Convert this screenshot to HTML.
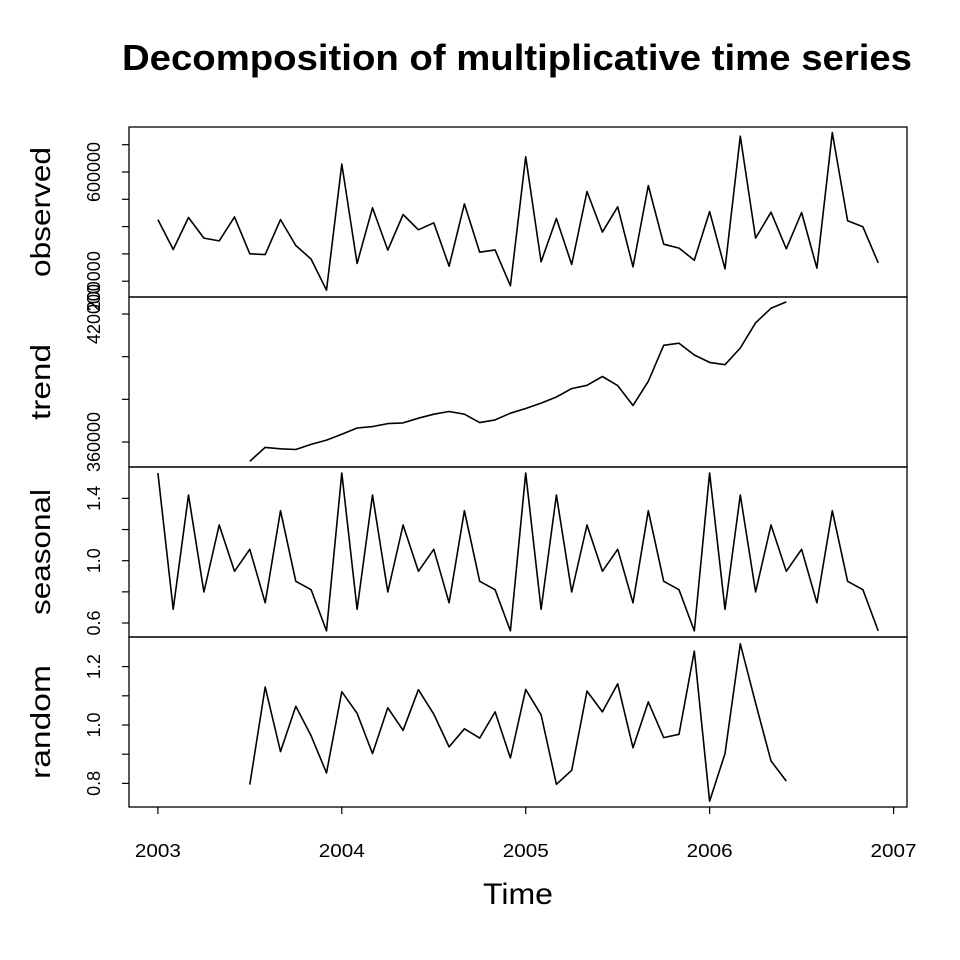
<!DOCTYPE html>
<html><head><meta charset="utf-8"><style>
body{margin:0;background:#fff}
svg{display:block;font-family:"Liberation Sans",Arial,sans-serif}
</style></head><body>
<svg id="chart" width="960" height="960" viewBox="0 0 960 960" xmlns="http://www.w3.org/2000/svg">
<rect width="960" height="960" fill="#fff"/>
<text x="517" y="70" text-anchor="middle" font-size="36" font-weight="bold" textLength="790" lengthAdjust="spacingAndGlyphs">Decomposition of multiplicative time series</text>
<text x="518" y="904" text-anchor="middle" font-size="30" textLength="70" lengthAdjust="spacingAndGlyphs">Time</text>
<g id="g"></g>
</svg>
<script>
const observed=[425800,316000,433200,357700,347800,435700,300200,297600,425800,330600,280800,167200,628800,264700,468700,313800,444200,388100,413800,255100,483300,306400,314800,183000,655500,270900,429500,261000,528400,379700,472400,252600,550400,335700,321100,277100,455100,245300,731300,357700,452900,318500,451500,247800,744500,421100,399100,267200];
const trend=[350970,357450,356800,356500,358870,360900,363600,366570,367200,368620,368940,371160,373050,374290,373050,369100,370360,373520,375700,378250,381090,385010,386570,390690,386430,377120,388460,405340,406290,400760,397310,396220,404070,415890,422690,425670];
const seasonalYear=[1.563,0.688,1.422,0.799,1.229,0.932,1.073,0.730,1.321,0.868,0.814,0.549];
const random=[0.796,1.130,0.909,1.064,0.963,0.836,1.114,1.040,0.902,1.059,0.982,1.121,1.037,0.925,0.987,0.955,1.045,0.887,1.122,1.035,0.797,0.845,1.116,1.045,1.141,0.922,1.079,0.957,0.968,1.253,0.739,0.902,1.278,1.075,0.877,0.808];
const trendStart=6;
const xTicks=[2003,2004,2005,2006,2007];
const obsTicks=[200000,300000,400000,500000,600000,700000];
const obsLabels=["200000","600000"];
const trendTicks=[360000,380000,400000,420000];
const trendLabels=["360000","420000"];
const seaTicks=[0.6,0.8,1.0,1.2,1.4];
const seaLabels=["0.6","1.0","1.4"];
const ranTicks=[0.8,0.9,1.0,1.1,1.2];
const ranLabels=["0.8","1.0","1.2"];
const seasonal=[];for(let i=0;i<48;i++)seasonal.push(seasonalYear[i%12]);

const NS="http://www.w3.org/2000/svg";
const g=document.getElementById('g');
const L=129,R=907;
const xs=t=>L+(t-2002.843)*(R-L)/(2007.073-2002.843);
const xm=i=>xs(2003+i/12);
function el(tag,at,txt){const e=document.createElementNS(NS,tag);for(const k in at)e.setAttribute(k,at[k]);if(txt!==undefined)e.textContent=txt;g.appendChild(e);return e;}
const panels=[
 {name:'observed',top:127,bot:297,data:observed,start:0,y:v=>172-(v-600000)*0.000273,ticks:obsTicks,labels:obsLabels,lw:130},
 {name:'trend',top:297,bot:467,data:trend,start:trendStart,y:v=>314-(v-420000)*128/60000,ticks:trendTicks,labels:trendLabels,lw:76},
 {name:'seasonal',top:467,bot:637,data:seasonal,start:0,y:v=>560.7-(v-1)*155.75,ticks:seaTicks,labels:seaLabels,lw:126},
 {name:'random',top:637,bot:807,data:random,start:trendStart,y:v=>725-(v-1)*292,ticks:ranTicks,labels:ranLabels,lw:114}
];
panels.forEach(p=>{
 const box=el('rect',{x:L,y:p.top,width:R-L,height:p.bot-p.top,fill:'none',stroke:'#000','stroke-width':1.3});
 
 
 const pts=p.data.map((v,i)=>xm(i+p.start).toFixed(1)+','+p.y(v).toFixed(1)).join(' ');
 const line=el('polyline',{points:pts,fill:'none',stroke:'#000','stroke-width':1.6,'stroke-linejoin':'round'});
 
 
 p.ticks.forEach(t=>{
  const y=p.y(t);
  const tk=el('line',{x1:L-7,x2:L,y1:y,y2:y,stroke:'#000','stroke-width':1.2});
  
  
 });
 p.labels.forEach(s=>{
  const y=p.y(parseFloat(s));
  const tx=el('text',{x:0,y:0,transform:`translate(100,${y.toFixed(1)}) rotate(-90)`,'text-anchor':'middle','font-size':18},s);
  
  
 });
 const lab=el('text',{x:0,y:0,transform:`translate(50,${(p.top+p.bot)/2}) rotate(-90)`,'text-anchor':'middle','font-size':28,textLength:p.lw,lengthAdjust:'spacingAndGlyphs'},p.name);
 
 
});
xTicks.forEach(t=>{
 const x=xs(t);
 const tk=el('line',{x1:x,x2:x,y1:807,y2:814,stroke:'#000','stroke-width':1.2});
 
 
 const tx=el('text',{x:x,y:857,'text-anchor':'middle','font-size':18,textLength:46,lengthAdjust:'spacingAndGlyphs'},String(t));
 
 
});
</script>
</body></html>
